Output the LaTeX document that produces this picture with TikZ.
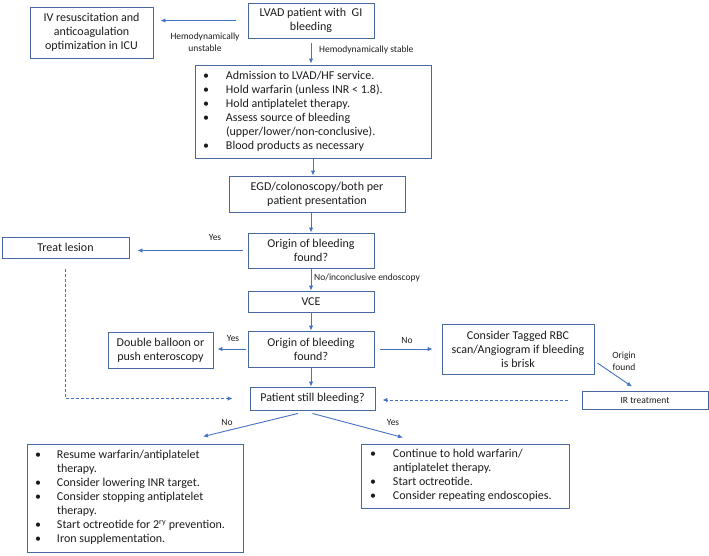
\documentclass[tikz,border=0pt]{standalone}
\usepackage{fontspec}
\setmainfont{Carlito}
\usepackage{array}
\usetikzlibrary{arrows.meta}
\definecolor{boxblue}{RGB}{72,104,160}
\definecolor{arrblue}{RGB}{68,114,196}
\definecolor{txtgray}{RGB}{28,28,28}
\newcolumntype{L}[1]{>{\raggedright\arraybackslash}p{#1}}
\newcommand{\bul}{\textbullet}
\tikzset{
  flowbox/.style={draw=boxblue, line width=0.9pt, align=center, inner sep=2pt,
    text=txtgray, font=\fontsize{12}{14}\selectfont},
  lbl/.style={text=txtgray, font=\fontsize{9.5}{12}\selectfont, align=center, inner sep=1pt},
  arr/.style={draw=arrblue, line width=0.9pt, -{Latex[length=5pt,width=4.5pt]}},
  darr/.style={arr, dash pattern=on 3pt off 2pt},
}
\begin{document}
\begin{tikzpicture}[x=1pt,y=-1pt]
        \useasboundingbox (0,0) rectangle (709,555);
        % boxes
        \node[flowbox, minimum width=126, minimum height=35] (lvad) at (311,20.5) {LVAD patient with\ \ GI\\bleeding};
        \node[flowbox, minimum width=123, minimum height=51] (iv) at (91.5,32.5) {IV resuscitation and\\anticoagulation\\optimization in ICU};
        \node[flowbox, minimum width=236, minimum height=93, inner xsep=8pt] (adm) at (313,111.5) {%
            \begin{tabular}{@{}p{23pt}@{}L{197pt}@{}}
                \bul & Admission to LVAD/HF service.\\
                \bul & Hold warfarin (unless INR < 1.8).\\
                \bul & Hold antiplatelet therapy.\\
                \bul & Assess source of bleeding\newline (upper/lower/non-conclusive).\\
                \bul & Blood products as necessary
            \end{tabular}};
        \node[flowbox, minimum width=176, minimum height=36] (egd) at (317,194) {EGD/colonoscopy/both per\\patient presentation};
        \node[flowbox, minimum width=126, minimum height=35] (org1) at (311,250.5) {Origin of bleeding\\found?};
        \node[flowbox, minimum width=127, minimum height=21] (treat) at (65.5,247.5) {Treat lesion};
        \node[flowbox, minimum width=126, minimum height=21] (vce) at (311,301.5) {VCE};
        \node[flowbox, minimum width=126, minimum height=36] (org2) at (311,349) {Origin of bleeding\\found?};
        \node[flowbox, minimum width=105, minimum height=36] (dbl) at (160.5,350) {Double balloon or\\push enteroscopy};
        \node[flowbox, minimum width=152, minimum height=50] (tag) at (518,349) {Consider Tagged RBC\\scan/Angiogram if bleeding\\is brisk};
        \node[flowbox, minimum width=126, minimum height=18, font=\fontsize{9.5}{11}\selectfont] (ir) at (645,400) {IR treatment};
        \node[flowbox, minimum width=125, minimum height=23] (pat) at (312.5,398.5) {Patient still bleeding?};
        \node[flowbox, minimum width=216, minimum height=108, inner xsep=8pt] (resume) at (135,498) {%
            \begin{tabular}{@{}p{22pt}@{}L{178pt}@{}}
                \bul & Resume warfarin/antiplatelet\newline therapy.\\
                \bul & Consider lowering INR target.\\
                \bul & Consider stopping antiplatelet\newline therapy.\\
                \bul & Start octreotide for 2\textsuperscript{ry} prevention.\\
                \bul & Iron supplementation.
            \end{tabular}};
        \node[flowbox, minimum width=208, minimum height=64, inner xsep=9pt] (hold) at (465,476) {%
            \begin{tabular}{@{}p{23pt}@{}L{167pt}@{}}
                \bul & Continue to hold warfarin/\newline antiplatelet therapy.\\
                \bul & Start octreotide.\\
                \bul & Consider repeating endoscopies.
            \end{tabular}};
        % connectors
        \draw[arr, shorten <=12pt, shorten >=7pt] (lvad.west) -- (iv.east |- lvad.west);
        \draw[arr, shorten <=5pt, shorten >=1pt] (lvad.south) -- (lvad.south |- adm.north);
        \draw[arr] (adm.south) -- (adm.south |- egd.north);
        \draw[arr] (org1.north |- egd.south) -- (org1.north);
        \draw[arr, shorten <=5pt, shorten >=8pt] (org1.west) -- (org1.west -| treat.east);
        \draw[arr] (org1.south) -- (vce.north);
        \draw[arr] (vce.south) -- (org2.north);
        \draw[arr, shorten <=2pt, shorten >=4pt] (org2.west) -- (org2.west -| dbl.east);
        \draw[arr, shorten <=6pt, shorten >=9pt] (org2.east) -- (org2.east -| tag.west);
        \draw[arr] ([xshift=3pt,yshift=-14pt]tag.east) -- ([xshift=-13pt,yshift=4pt]ir.north);
        \draw[darr, shorten <=14pt, shorten >=7pt] (ir.west) -- (ir.west -| pat.east);
        \draw[arr] (org2.south) -- (org2.south |- pat.north);
        \draw[darr, shorten <=11pt, shorten >=17pt] (treat.south) |- (pat.west);
        \draw[arr] ([xshift=-14.5pt,yshift=-3pt]pat.south) -- ([xshift=68pt,yshift=7pt]resume.north);
        \draw[arr] ([yshift=-3pt]pat.south) -- ([xshift=-62pt,yshift=6pt]hold.north);
        % connector labels
        \node[lbl] (l-unstable) at (205,42) {Hemodynamically\\unstable};
        \node[lbl, anchor=west] (l-stable) at (318,50) {Hemodynamically stable};
        \node[lbl] (l-yes1) at (215,237) {Yes};
        \node[lbl, anchor=west] (l-inconc) at (313,278) {No/inconclusive endoscopy};
        \node[lbl] (l-yes2) at (233,338) {Yes};
        \node[lbl] (l-no1) at (407,340) {No};
        \node[lbl] (l-found) at (624,361.5) {Origin\\found};
        \node[lbl] (l-no2) at (227,422) {No};
        \node[lbl] (l-yes3) at (393,422) {Yes};
    \end{tikzpicture}
\end{document}
